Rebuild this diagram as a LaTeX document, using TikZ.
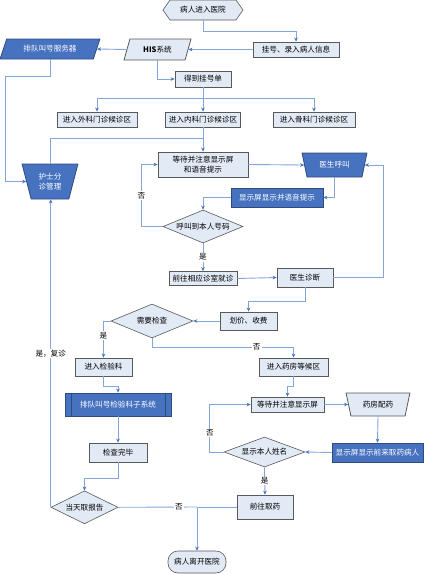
\documentclass[tikz,border=0pt]{standalone}
\usepackage{fontspec}
\setmainfont{Noto Sans CJK SC}
\usepackage{xcolor}
\usetikzlibrary{shapes,arrows.meta}

\definecolor{boxfill}{HTML}{E2EAF6}
\definecolor{boxline}{HTML}{595959}
\definecolor{darkfill}{HTML}{4672C0}
\definecolor{darkline}{HTML}{2F4C80}
\definecolor{linkblue}{HTML}{86A6D6}
\definecolor{tipblue}{HTML}{4672C0}

\begin{document}
\begin{tikzpicture}[
  x=1pt, y=-1pt,
  font=\fontsize{7.6}{9.5}\selectfont,
  box/.style={rectangle, draw=boxline, fill=boxfill, line width=0.8pt, inner sep=1pt, align=center},
  darkbox/.style={rectangle, draw=darkline, fill=darkfill, text=white, line width=0.8pt, inner sep=1pt, align=center},
  choice/.style={diamond, draw=boxline, fill=boxfill, line width=0.6pt, inner sep=0pt, aspect=2.4},
  slant/.style={trapezium, trapezium left angle=70, trapezium right angle=110, trapezium stretches=true, line width=0.8pt, inner sep=1pt},
  funnel/.style={trapezium, trapezium angle=72, shape border rotate=180, trapezium stretches=true, line width=0.8pt, inner sep=1pt, align=center},
  arrow/.style={-{Stealth[length=4pt,width=3.6pt,color=tipblue]}, draw=linkblue, line width=0.9pt},
  link/.style={draw=linkblue, line width=0.9pt},
  tag/.style={fill=white, inner sep=1pt}
]
\useasboundingbox (0,0) rectangle (425,574);

% entry and registration
\node[signal, signal to=west and east, signal pointer angle=110, draw=boxline, fill=boxfill, line width=0.6pt, minimum width=80pt, minimum height=20pt, inner sep=1pt] (start) at (203,10) {病人进入医院};
\node[box, minimum width=86pt, minimum height=15pt] (reg) at (296,49.5) {挂号、录入病人信息};
\node[slant, draw=boxline, fill=boxfill, minimum width=67pt, minimum height=21pt] (his) at (157.5,49.5) {\textbf{HIS}系统};
\node[slant, trapezium left angle=65, trapezium right angle=115, draw=darkline, fill=darkfill, text=white, minimum width=100pt, minimum height=20pt] (qserver) at (50,49) {排队叫号服务器};
\node[box, minimum width=56pt, minimum height=16pt] (ticket) at (203,79) {得到挂号单};

% waiting areas
\node[box, minimum width=80pt, minimum height=15pt] (surg) at (97,119.5) {进入外科门诊候诊区};
\node[box, minimum width=75pt, minimum height=15pt] (intern) at (203,119.5) {进入内科门诊候诊区};
\node[box, minimum width=82pt, minimum height=15pt] (ortho) at (314,119.5) {进入骨科门诊候诊区};

% calling loop
\node[box, minimum width=90pt, minimum height=25pt] (wait) at (203,164.5) {等待并注意显示屏\\和语音提示};
\node[funnel, draw=darkline, fill=darkfill, text=white, minimum width=65pt, minimum height=24pt] (call) at (334.5,165) {医生呼叫};
\node[funnel, draw=darkline, fill=darkfill, text=white, minimum width=56pt, minimum height=35pt] (nurse) at (50,181.5) {护士分\\诊管理};
\node[darkbox, minimum width=92pt, minimum height=19pt] (screen) at (277,197.5) {显示屏显示并语音提示};
\node[choice, minimum width=80pt, minimum height=33pt] (ismine) at (203,226.5) {呼叫到本人号码};
\node[box, minimum width=68pt, minimum height=14pt] (goroom) at (203,278.5) {前往相应诊室就诊};
\node[box, minimum width=56pt, minimum height=19pt] (diag) at (305,277.5) {医生诊断};

% payment and check
\node[box, minimum width=57pt, minimum height=18pt] (pay) at (248.5,321) {划价、收费};
\node[choice, minimum width=82pt, minimum height=34pt] (needchk) at (152,321) {需要检查};
\node[box, minimum width=57pt, minimum height=18pt] (lab) at (103.5,367) {进入检验科};
\node[box, minimum width=69pt, minimum height=18pt] (pharmq) at (293.5,367) {进入药房等候区};
\node[darkbox, minimum width=106pt, minimum height=23pt] (labsys) at (118,404.5) {排队叫号检验科子系统};
\draw[darkline, line width=0.8pt] ([xshift=6.5pt]labsys.north west) -- ([xshift=6.5pt]labsys.south west)
  ([xshift=-6.5pt]labsys.north east) -- ([xshift=-6.5pt]labsys.south east);
\node[box, minimum width=73pt, minimum height=15pt] (waitp) at (287.5,404.5) {等待并注意显示屏};
\node[funnel, draw=boxline, fill=boxfill, minimum width=64pt, minimum height=23pt] (dispense) at (378,404.5) {药房配药};
\node[darkbox, minimum width=91pt, minimum height=19pt] (pscreen) at (377.5,452.5) {显示屏显示前来取药病人};
\node[choice, minimum width=81pt, minimum height=30pt] (showname) at (264.5,452) {显示本人姓名};
\node[box, minimum width=58pt, minimum height=19pt] (done) at (118,452.5) {检查完毕};
\node[choice, minimum width=67pt, minimum height=33pt] (report) at (84.5,507.3) {当天取报告};
\node[box, minimum width=56pt, minimum height=24pt] (getmed) at (265,507) {前往取药};
\node[rectangle, rounded corners=10pt, draw=boxline, fill=boxfill, line width=0.6pt, minimum width=58pt, minimum height=22pt, inner sep=1pt] (leave) at (197,562) {病人离开医院};

% helper points
\coordinate (split) at (203,98.3);
\coordinate (lft) at (5,76);
\coordinate (merge) at (203,138.3);
\coordinate (join) at (leave.north |- getmed.west);

% top part
\draw[arrow] (start.south) -- ++(0,10.7) -| (reg.north);
\draw[arrow] (reg.west) -- (his.east);
\draw[arrow] (his.west) -- (qserver.east);
\draw[arrow] (his.south) |- (ticket.west);
\draw[link] (ticket.south) -- (split);
\draw[arrow] (split) -| (surg.north);
\draw[arrow] (split) -- (intern.north);
\draw[arrow] (split) -| (ortho.north);
\draw[arrow] (qserver.south) |- (lft) |- (nurse.west);
\draw[arrow] (intern.south) -- (wait.north);
\draw[link] (nurse.north) |- (merge);

% calling loop
\draw[arrow] (wait.east) -- (call.west);
\draw[arrow] (call.south) |- (screen.east);
\draw[arrow] (screen.west) -| (ismine.north);
\draw[arrow] (ismine.west) -- ++(-21.3,0) |- node[pos=0.25, tag] {否} (wait.west);
\draw[arrow] (ismine.south) -- node[tag] {是} (goroom.north);
\draw[arrow] (goroom.east) -- (diag.west);
\draw[arrow] (diag.east) -- ++(50,0) |- (call.east);

% payment and check
\draw[arrow] (diag.south) -- ++(0,14) -| (pay.north);
\draw[arrow] (pay.west) -- (needchk.east);
\draw[arrow] (needchk.west) -| node[pos=0.7, tag] {是} (lab.north);
\draw[arrow] (needchk.south) -- ++(0,8.7) -| node[pos=0.37, tag] {否} (pharmq.north);
\draw[arrow] (lab.south) -- ++(0,10) -| (labsys.north);
\draw[arrow] (pharmq.south) -- ++(0,10) -| (waitp.north);
\draw[arrow] (waitp.east) -- (dispense.west);
\draw[arrow] (dispense.south) -- (pscreen.north);
\draw[arrow] (pscreen.west) -- (showname.east);
\draw[arrow] (showname.west) -- ++(-13.8,0) |- node[pos=0.2, tag] {否} (waitp.west);
\draw[arrow] (showname.south) -- node[tag] {是} (getmed.north);
\draw[arrow] (labsys.south) -- (done.north);
\draw[arrow] (done.south) -- ++(0,16) -| (report.north);
\draw[arrow] (report.west) -- node[pos=0.5, tag] {是，复诊} (report.west |- nurse.south);

% leaving
\draw[link] (report.east) -- node[pos=0.77, tag] {否} (join);
\draw[link] (getmed.west) -- (join);
\draw[arrow] (join) -- (leave.north);

\end{tikzpicture}
\end{document}
